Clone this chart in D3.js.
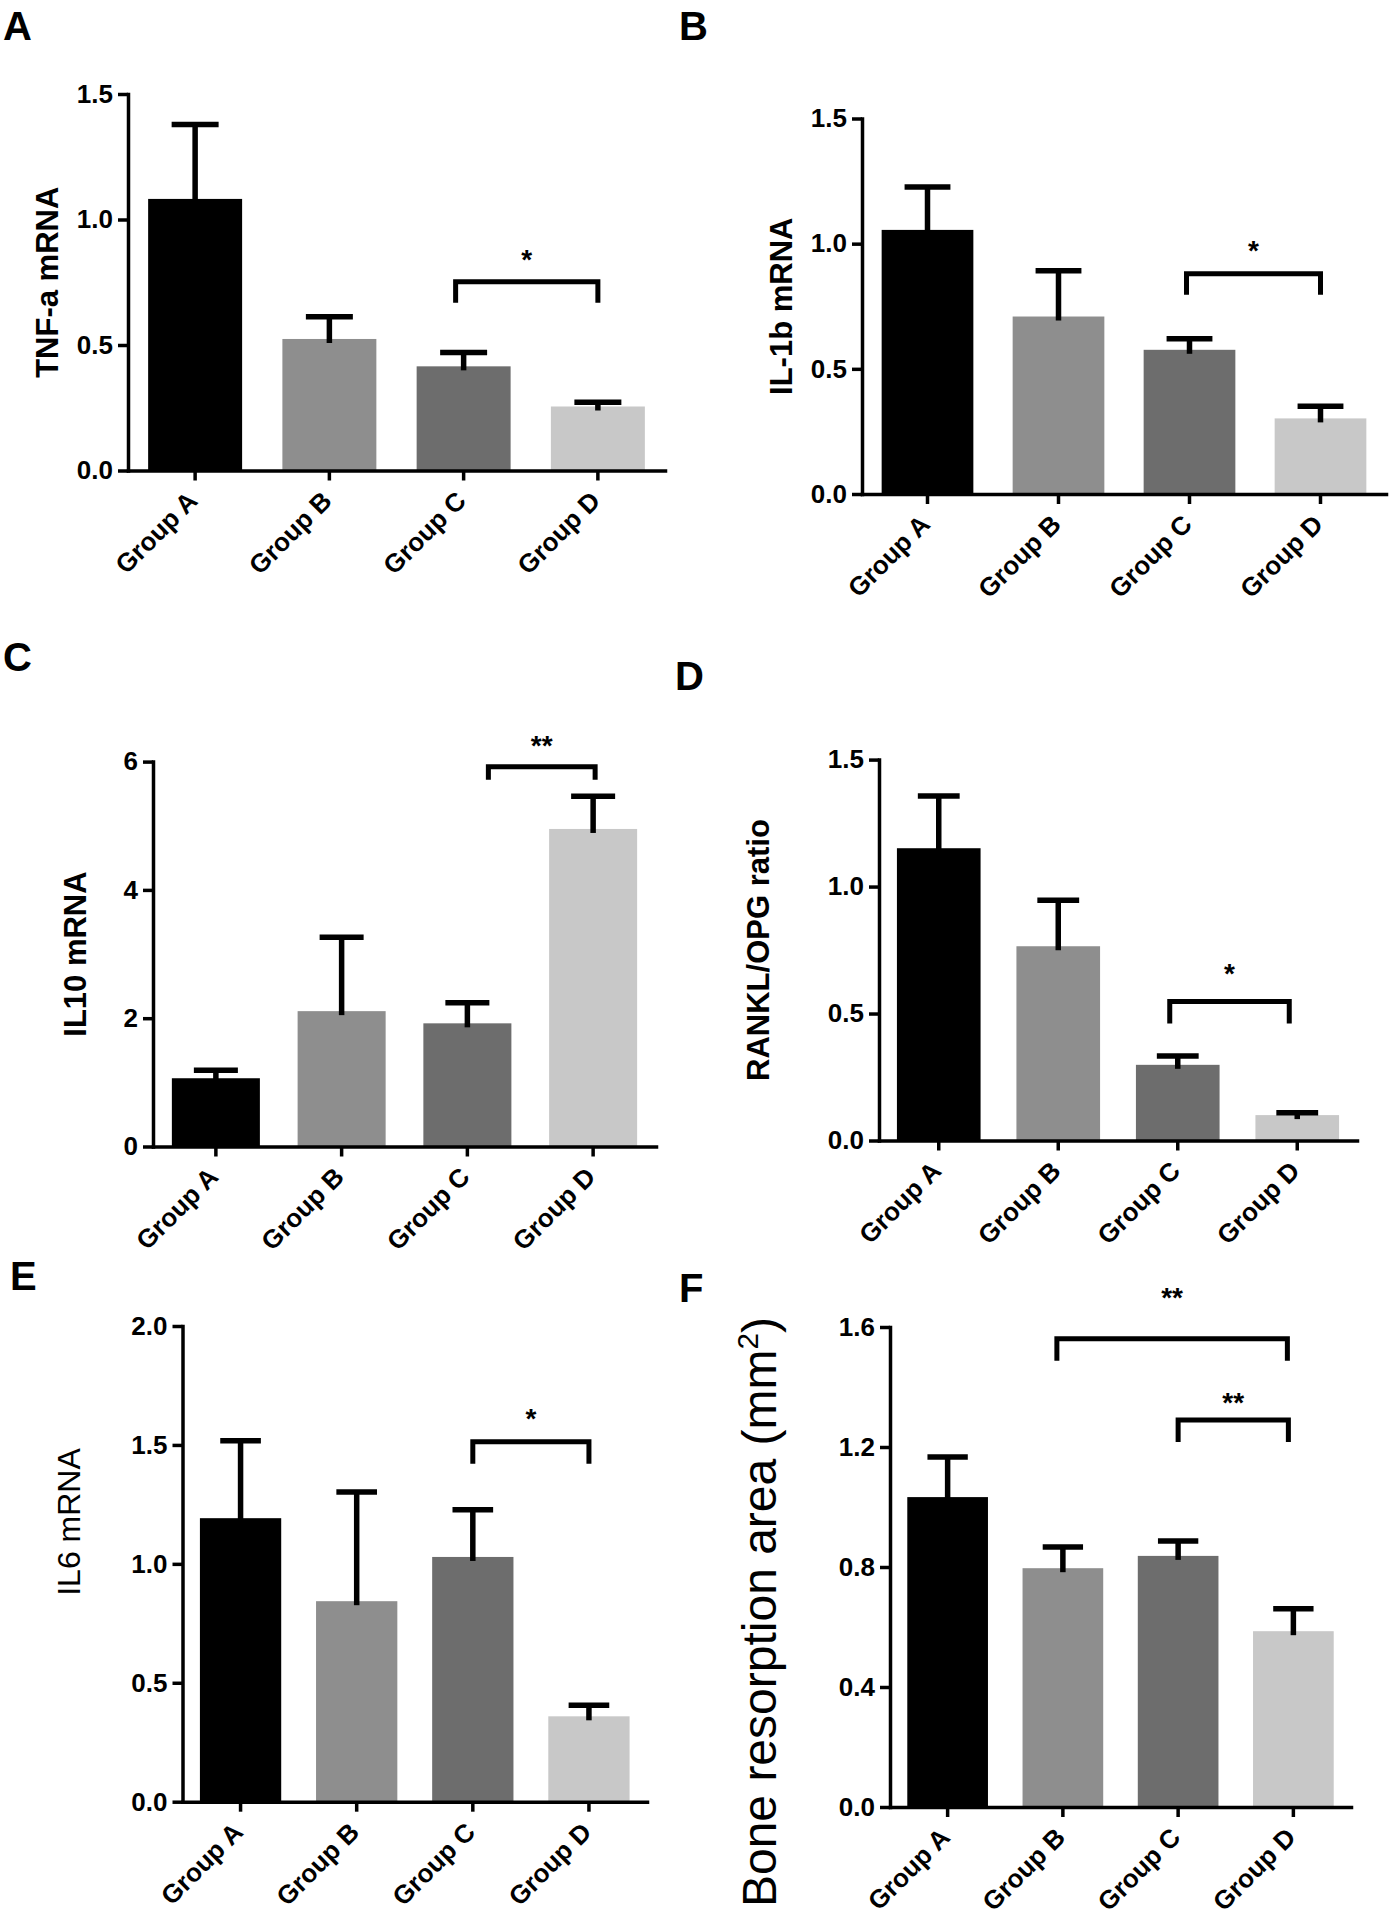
<!DOCTYPE html>
<html>
<head>
<meta charset="utf-8">
<script src="https://cdn.jsdelivr.net/npm/d3@7"></script>
<style>
  html, body { margin: 0; padding: 0; background: #ffffff; }
  svg { display: block; }
  text { font-family: "Liberation Sans", Arial, Helvetica, sans-serif; fill: #000; }
</style>
</head>
<body>
<script>
// ---------------- DATA ----------------
const groups = ["Group A", "Group B", "Group C", "Group D"];

const tnfMeans  = [1.082, 0.524, 0.415, 0.255];
const tnfSem    = [0.296, 0.089, 0.055, 0.017];
const tnfTicks  = [0.0, 0.5, 1.0, 1.5];
const tnfTickLabels = ["0.0", "0.5", "1.0", "1.5"];
const tnfBrackets = [{ from: "Group C", to: "Group D", y: 0.752, label: "*" }];

const il1bMeans = [1.055, 0.709, 0.576, 0.302];
const il1bSem   = [0.171, 0.183, 0.044, 0.049];
const il1bTicks = [0.0, 0.5, 1.0, 1.5];
const il1bTickLabels = ["0.0", "0.5", "1.0", "1.5"];
const il1bBrackets = [{ from: "Group C", to: "Group D", y: 0.880, label: "*" }];

const il10Means = [1.064, 2.11, 1.92, 4.95];
const il10Sem   = [0.126, 1.15, 0.32, 0.51];
const il10Ticks = [0, 2, 4, 6];
const il10TickLabels = ["0", "2", "4", "6"];
const il10Brackets = [{ from: "Group C", to: "Group D", y: 5.92, label: "**" }];

const rankMeans = [1.151, 0.765, 0.298, 0.100];
const rankSem   = [0.206, 0.181, 0.035, 0.009];
const rankTicks = [0.0, 0.5, 1.0, 1.5];
const rankTickLabels = ["0.0", "0.5", "1.0", "1.5"];
const rankBrackets = [{ from: "Group C", to: "Group D", y: 0.547, label: "*" }];

const il6Means = [1.192, 0.843, 1.029, 0.359];
const il6Sem   = [0.326, 0.459, 0.198, 0.046];
const il6Ticks = [0.0, 0.5, 1.0, 1.5, 2.0];
const il6TickLabels = ["0.0", "0.5", "1.0", "1.5", "2.0"];
const il6Brackets = [{ from: "Group C", to: "Group D", y: 1.513, label: "*" }];

const boneMeans = [1.033, 0.796, 0.837, 0.586];
const boneSem   = [0.134, 0.071, 0.050, 0.075];
const boneTicks = [0.0, 0.4, 0.8, 1.2, 1.6];
const boneTickLabels = ["0.0", "0.4", "0.8", "1.2", "1.6"];
const boneBrackets = [
  { from: "Group B", to: "Group D", y: 1.561, label: "**" },
  { from: "Group C", to: "Group D", y: 1.290, label: "**" }
];

const barColors = ["#000000", "#8e8e8e", "#6d6d6d", "#c8c8c8"];

// ---------------- LAYOUT ----------------
const W = 1391, H = 1920;
const panels = [
  { letter: "A", lx: 3, ly: 40, x0: 128, x1: 665, yTop: 94, yBot: 470.5, yMax: 1.5,
    means: tnfMeans, sem: tnfSem, ticks: tnfTicks, tickLabels: tnfTickLabels, brackets: tnfBrackets,
    title: "TNF-a mRNA", titleX: 47, titleSize: 31, titleWeight: "bold",
    bracketStyle: [{ dx1: -8, dx2: 0, drop: 21, starGap: 13 }] },
  { letter: "B", lx: 679, ly: 40, x0: 862, x1: 1386, yTop: 118.5, yBot: 494, yMax: 1.5,
    means: il1bMeans, sem: il1bSem, ticks: il1bTicks, tickLabels: il1bTickLabels, brackets: il1bBrackets,
    title: "IL-1b mRNA", titleX: 781, titleSize: 31, titleWeight: "bold",
    bracketStyle: [{ dx1: -3, dx2: 0, drop: 21, starGap: 14 }] },
  { letter: "C", lx: 3, ly: 671, x0: 153, x1: 656, yTop: 761.6, yBot: 1146.5, yMax: 6,
    means: il10Means, sem: il10Sem, ticks: il10Ticks, tickLabels: il10TickLabels, brackets: il10Brackets,
    title: "IL10 mRNA", titleX: 75, titleSize: 31, titleWeight: "bold",
    bracketStyle: [{ dx1: 21, dx2: 2, drop: 13, starGap: 12 }] },
  { letter: "D", lx: 675, ly: 690, x0: 879, x1: 1357, yTop: 759.6, yBot: 1140.5, yMax: 1.5,
    means: rankMeans, sem: rankSem, ticks: rankTicks, tickLabels: rankTickLabels, brackets: rankBrackets,
    title: "RANKL/OPG ratio", titleX: 758, titleSize: 31, titleWeight: "bold",
    bracketStyle: [{ dx1: -8, dx2: -8, drop: 22, starGap: 19 }] },
  { letter: "E", lx: 10, ly: 1290, x0: 182.5, x1: 647, yTop: 1326, yBot: 1801.7, yMax: 2.0,
    means: il6Means, sem: il6Sem, ticks: il6Ticks, tickLabels: il6TickLabels, brackets: il6Brackets,
    title: "IL6 mRNA", titleX: 68, titleCY: 1522, titleSize: 32, titleWeight: "normal",
    bracketStyle: [{ dx1: 0, dx2: 0, drop: 22, starGap: 14 }] },
  { letter: "F", lx: 679, ly: 1302, x0: 890, x1: 1351, yTop: 1327, yBot: 1807, yMax: 1.6,
    means: boneMeans, sem: boneSem, ticks: boneTicks, tickLabels: boneTickLabels, brackets: boneBrackets,
    title: "Bone resorption area (mm", titleSup: "2", titleSuffix: ")", titleX: 759, titleCY: 1612, titleSize: 48, titleWeight: "normal",
    bracketStyle: [{ dx1: -6, dx2: -6, drop: 22, starGap: 32 }, { dx1: 0, dx2: -5, drop: 22, starGap: 8 }] }
];

const svg = d3.select("body").append("svg")
  .attr("width", W).attr("height", H).attr("viewBox", `0 0 ${W} ${H}`);
svg.append("rect").attr("width", W).attr("height", H).attr("fill", "#fff");

panels.forEach(p => {
  const g = svg.append("g");
  const x = d3.scaleBand().domain(groups).range([p.x0, p.x1]).paddingInner(0.3).paddingOuter(0.15);
  const y = d3.scaleLinear().domain([0, p.yMax]).range([p.yBot, p.yTop]);
  const bw = x.bandwidth();
  const rows = groups.map((gname, i) => ({ g: gname, m: p.means[i], e: p.sem[i], c: barColors[i] }));

  // bars
  g.selectAll("rect.bar").data(rows).join("rect")
    .attr("class", "bar")
    .attr("x", d => x(d.g)).attr("width", bw)
    .attr("y", d => y(d.m)).attr("height", d => y(0) - y(d.m))
    .attr("fill", d => d.c);

  // error bars (upper only)
  const eb = g.selectAll("g.eb").data(rows).join("g").attr("class", "eb");
  eb.append("line")
    .attr("x1", d => x(d.g) + bw / 2).attr("x2", d => x(d.g) + bw / 2)
    .attr("y1", d => y(d.m) + 4).attr("y2", d => y(d.m + d.e))
    .attr("stroke", "#000").attr("stroke-width", 5.5);
  eb.append("line")
    .attr("x1", d => x(d.g) + bw / 4).attr("x2", d => x(d.g) + bw * 3 / 4)
    .attr("y1", d => y(d.m + d.e)).attr("y2", d => y(d.m + d.e))
    .attr("stroke", "#000").attr("stroke-width", 5.5);

  // y axis
  const ya = g.append("g").attr("transform", `translate(${p.x0},0)`)
    .call(d3.axisLeft(y).tickValues(p.ticks).tickFormat((d, i) => p.tickLabels[i])
      .tickSize(10).tickSizeOuter(0).tickPadding(5));
  ya.select(".domain").attr("stroke-width", 3.5).attr("stroke-linecap", "square");
  ya.selectAll(".tick line").attr("stroke-width", 3.5);
  ya.selectAll(".tick text").attr("font-size", 26).attr("font-weight", "bold")
    .attr("font-family", "'Liberation Sans', Arial, sans-serif").attr("fill", "#000");

  // x axis
  const xa = g.append("g").attr("transform", `translate(0,${p.yBot})`)
    .call(d3.axisBottom(x).tickSize(10).tickSizeOuter(0));
  xa.select(".domain").attr("stroke-width", 3.5).attr("stroke-linecap", "square");
  xa.selectAll(".tick line").attr("stroke-width", 3.5);
  xa.selectAll(".tick text")
    .attr("y", 0).attr("dy", null)
    .attr("transform", "translate(4,32) rotate(-45)")
    .attr("text-anchor", "end")
    .attr("font-size", 26).attr("font-weight", "bold")
    .attr("font-family", "'Liberation Sans', Arial, sans-serif").attr("fill", "#000");

  // y title
  const cy = p.titleCY !== undefined ? p.titleCY : (p.yTop + p.yBot) / 2;
  const tx = p.titleX + 0.36 * p.titleSize;
  const t = g.append("text")
    .attr("transform", `translate(${tx},${cy}) rotate(-90)`)
    .attr("text-anchor", "middle")
    .attr("font-size", p.titleSize).attr("font-weight", p.titleWeight)
    .text(p.title);
  if (p.titleSup) {
    t.append("tspan").attr("font-size", p.titleSize * 0.62).attr("dy", -p.titleSize * 0.38).text(p.titleSup);
    t.append("tspan").attr("dy", p.titleSize * 0.38).text(p.titleSuffix);
  }

  // significance brackets
  p.brackets.forEach((b, i) => {
    const st = p.bracketStyle[i];
    const bx1 = x(b.from) + bw / 2 + st.dx1;
    const bx2 = x(b.to) + bw / 2 + st.dx2;
    const by = y(b.y);
    g.append("path")
      .attr("d", `M${bx1},${by + st.drop} L${bx1},${by} L${bx2},${by} L${bx2},${by + st.drop}`)
      .attr("fill", "none").attr("stroke", "#000").attr("stroke-width", 5);
    g.append("text")
      .attr("x", (bx1 + bx2) / 2).attr("y", by - st.starGap)
      .attr("text-anchor", "middle").attr("font-size", 28).attr("font-weight", "bold")
      .text(b.label);
  });

  // panel letter
  svg.append("text").attr("x", p.lx).attr("y", p.ly)
    .attr("font-size", 40).attr("font-weight", "bold").text(p.letter);
});
</script>
</body>
</html>
